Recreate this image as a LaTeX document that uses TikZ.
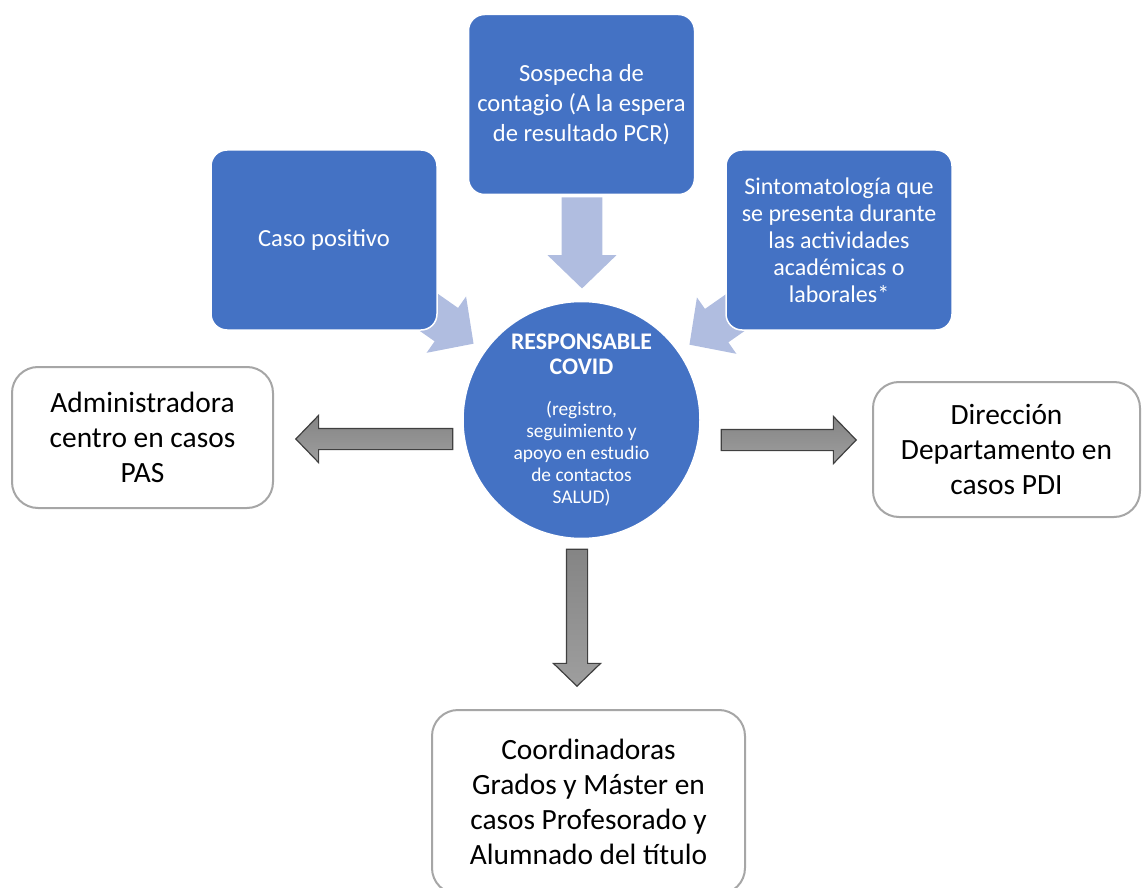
\documentclass[tikz,border=0pt]{standalone}
\usepackage{fontspec}
\setmainfont{Carlito}
\usetikzlibrary{shapes.arrows}
\definecolor{covidblue}{RGB}{68,114,196}
\definecolor{arrowblue}{RGB}{176,189,224}
\definecolor{boxgrey}{RGB}{166,166,166}
\tikzset{
  bluebox/.style={draw=white, line width=0.75pt, fill=covidblue, rounded corners=8pt,
    text=white, align=center, minimum width=113pt, minimum height=90pt, inner sep=0pt},
  whitebox/.style={draw=boxgrey, line width=1pt, fill=white, rounded corners=13pt,
    align=center, font=\fontsize{14.7}{17.4}\selectfont, inner sep=0pt},
  lightarrow/.style={single arrow, anchor=tip, fill=arrowblue, draw=none, minimum height=45.5pt,
    minimum width=34pt, single arrow head extend=7pt, single arrow tip angle=92,
    inner xsep=0pt, inner ysep=10pt},
  greyarrow/.style={single arrow, anchor=tip, draw=black!75, line width=0.6pt, top color=black!48,
    bottom color=black!38, minimum width=23pt, single arrow head extend=6.5pt,
    single arrow tip angle=92, inner xsep=0pt, inner ysep=5pt}
}

\begin{document}
\begin{tikzpicture}[x=0.5pt, y=-0.5pt]
        \useasboundingbox (0,0) rectangle (1142,888);
        \clip (0,0) rectangle (1142,888);
        % arrows into the circle
        \node[lightarrow, rotate=-90] (intop) at (582,289) {};
        \node[lightarrow, rotate=-35] (inleft) at (474,344) {};
        \node[lightarrow, rotate=-145] (inright) at (689,345) {};
        % blue boxes
        \node[bluebox, font=\fontsize{12.3}{15}\selectfont] (sospecha) at (581.5,104.5)
          {Sospecha de\\contagio (A la espera\\de resultado PCR)};
        \node[bluebox, font=\fontsize{12.3}{15}\selectfont] (caso) at (324,240) {Caso positivo};
        \node[bluebox, font=\fontsize{12}{13.5}\selectfont] (sintomas) at (839,240)
          {Sintomatología que\\se presenta durante\\las actividades\\académicas o\\laborales*};
        % circle
        \node[circle, fill=covidblue, draw=white, line width=0.75pt, minimum size=118.5pt] (covid) at (581.5,420) {};
        \node[text=white, inner sep=0pt] (covidtxt) at (covid.center)
          {\parbox{110pt}{\centering
           {\fontsize{11.9}{12.5}\selectfont\bfseries RESPONSABLE\\COVID\par}
           \vspace{9.5pt}
           {\fontsize{9.7}{11}\selectfont (registro,\\seguimiento y\\apoyo en estudio\\de contactos\\SALUD)\par}}};
        % arrows out of the circle
        \node[greyarrow, minimum height=78.5pt, rotate=180] (outleft) at (295,439) {};
        \node[greyarrow, minimum height=67.5pt] (outright) at (857,440) {};
        \node[greyarrow, minimum height=68.5pt, rotate=-90] (outdown) at (577,687) {};
        % white boxes
        \node[whitebox, minimum width=130.5pt, minimum height=70.5pt] (admin) at (142.5,437.5)
          {Administradora\\centro en casos\\PAS};
        \node[whitebox, minimum width=133.5pt, minimum height=67.5pt] (direccion) at (1006.5,449.5)
          {Dirección\\Departamento en\\casos PDI};
        \node[whitebox, minimum width=156.5pt, minimum height=92pt] (coord) at (588.5,802)
          {Coordinadoras\\Grados y Máster en\\casos Profesorado y\\Alumnado del título};
\end{tikzpicture}
\end{document}
